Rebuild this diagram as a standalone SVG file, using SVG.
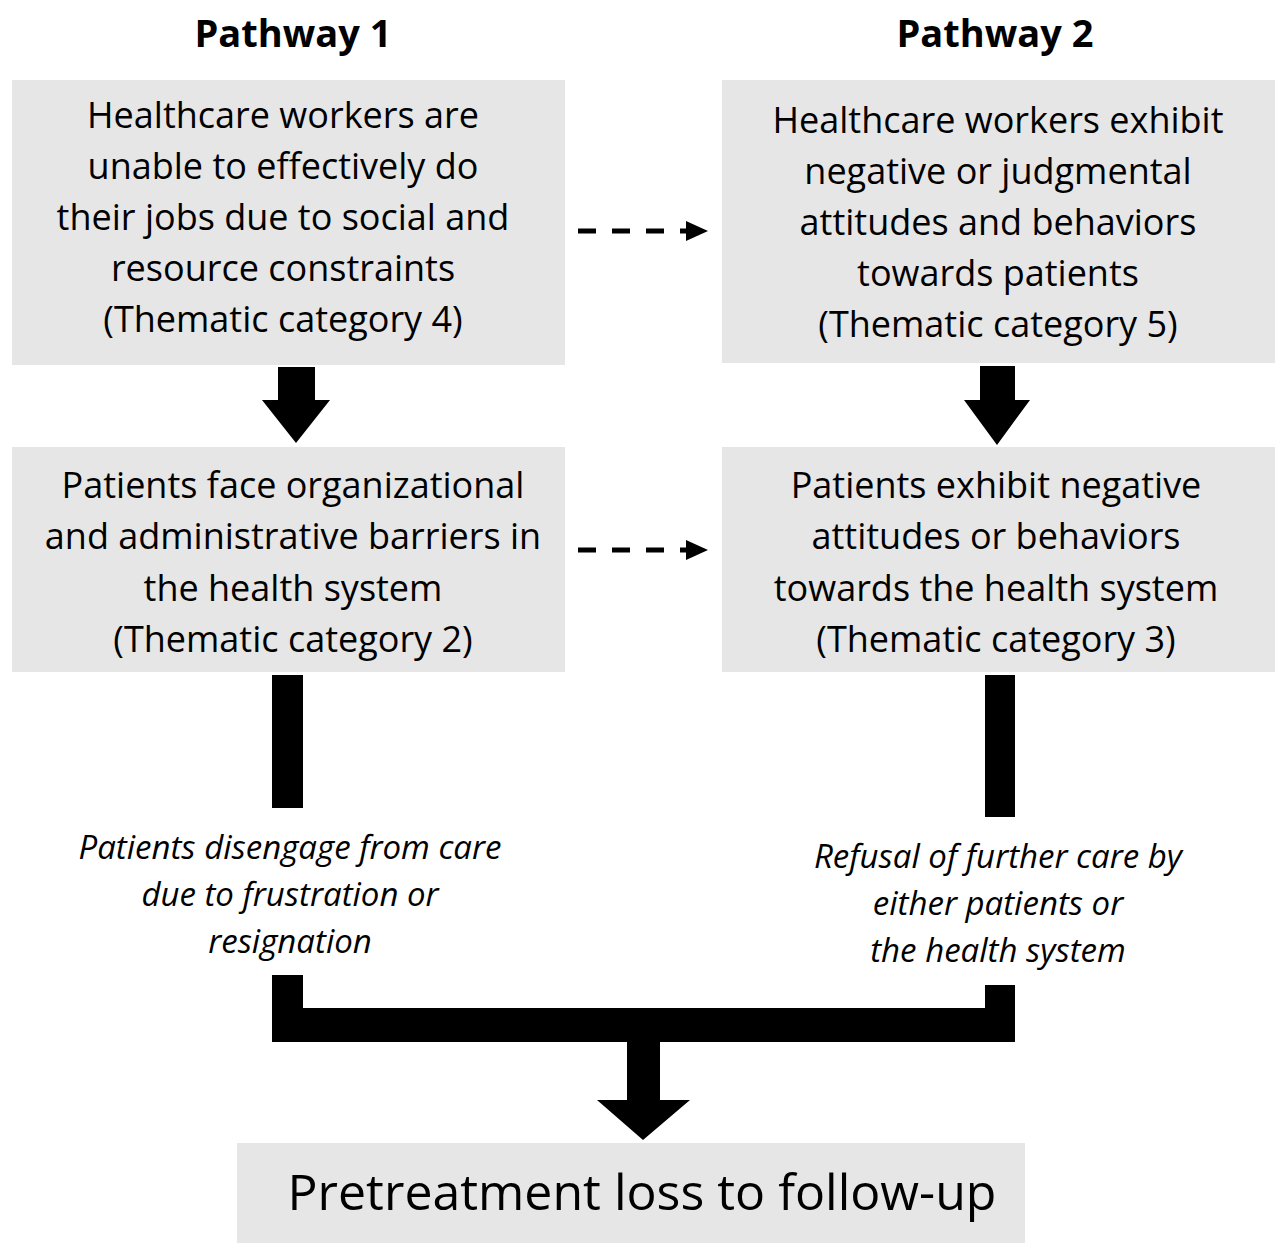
<svg xmlns="http://www.w3.org/2000/svg" width="1280" height="1247" viewBox="0 0 1280 1247">
<style>
.box{fill:#e6e6e6}
.t{font-family:"Open Sans","Liberation Sans",sans-serif;font-size:36px;fill:#000;text-anchor:middle}
.i{font-style:italic;font-size:33px}
.h{font-weight:bold;font-size:38px}
.dash{stroke:#000;stroke-width:5;stroke-dasharray:18 16;fill:none}
</style>
<rect width="1280" height="1247" fill="#fff"/>
<text class="t h" x="293" y="47">Pathway 1</text>
<text class="t h" x="995" y="47">Pathway 2</text>
<g id="n1"><rect class="box" x="12" y="80" width="553" height="285"/>
<text class="t" x="283" y="128">Healthcare workers are</text>
<text class="t" x="283" y="179">unable to effectively do</text>
<text class="t" x="283" y="230">their jobs due to social and</text>
<text class="t" x="283" y="281">resource constraints</text>
<text class="t" x="283" y="332">(Thematic category 4)</text></g>
<g id="n2"><rect class="box" x="722" y="80" width="553" height="283"/>
<text class="t" x="998" y="133">Healthcare workers exhibit</text>
<text class="t" x="998" y="184">negative or judgmental</text>
<text class="t" x="998" y="235">attitudes and behaviors</text>
<text class="t" x="998" y="286">towards patients</text>
<text class="t" x="998" y="337">(Thematic category 5)</text></g>
<g id="n3"><rect class="box" x="12" y="447" width="553" height="225"/>
<text class="t" x="293" y="498">Patients face organizational</text>
<text class="t" x="293" y="549">and administrative barriers in</text>
<text class="t" x="293" y="601">the health system</text>
<text class="t" x="293" y="652">(Thematic category 2)</text></g>
<g id="n4"><rect class="box" x="722" y="447" width="553" height="225"/>
<text class="t" x="996" y="498">Patients exhibit negative</text>
<text class="t" x="996" y="549">attitudes or behaviors</text>
<text class="t" x="996" y="601">towards the health system</text>
<text class="t" x="996" y="652">(Thematic category 3)</text></g>
<g id="n5"><rect class="box" x="237" y="1143" width="788" height="100"/>
<text class="t" x="642" y="1210" style="font-size:50px">Pretreatment loss to follow-up</text></g>
<g id="labels">
<text class="t i" x="290" y="859">Patients disengage from care</text>
<text class="t i" x="290" y="906">due to frustration or</text>
<text class="t i" x="290" y="953">resignation</text>
<text class="t i" x="998" y="868">Refusal of further care by</text>
<text class="t i" x="998" y="915">either patients or</text>
<text class="t i" x="998" y="962">the health system</text>
</g>
<g id="connectors">
<line class="dash" x1="578" y1="231" x2="688" y2="231"/>
<polygon points="686,221 708,231 686,241"/>
<line class="dash" x1="578" y1="550" x2="688" y2="550"/>
<polygon points="686,540 708,550 686,560"/>
<polygon points="278,367 315,367 315,400 330,400 296,443 262,400 278,400"/>
<polygon points="980,366 1015,366 1015,400 1030,400 997,445 964,400 980,400"/>
<rect x="272" y="675" width="31" height="133"/>
<rect x="985" y="675" width="30" height="142"/>
<path d="M272,975 H303 V1008 H985 V985 H1015 V1042 H272 Z"/>
<polygon points="627,1042 660,1042 660,1100 690,1100 643,1140 597,1100 627,1100"/>
</g>
</svg>
